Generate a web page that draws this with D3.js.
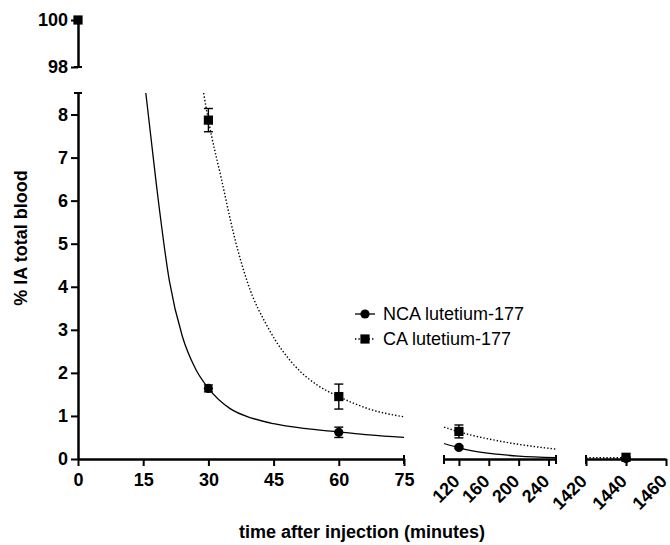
<!DOCTYPE html>
<html>
<head>
<meta charset="utf-8">
<script src="https://cdn.jsdelivr.net/npm/d3@7"></script>
<style>
  body { margin: 0; background: #fff; }
  svg { display: block; }
  text { font-family: Arial, "Liberation Sans", sans-serif; }
</style>
</head>
<body>
<div id="chart"></div>
<script>
// measured points (mean +- sem)
const ncaTimes = [30, 60, 120, 1440]
const ncaMean = [1.64, 0.62, 0.27, 0.01]
const ncaSem = [0.08, 0.12, 0.03, 0]

const caTimes = [0, 30, 60, 120, 1440]
const caMean = [100, 7.87, 1.45, 0.64, 0.04]
const caSem = [0, 0.27, 0.29, 0.15, 0.01]

// fitted curves, one list per axis segment
const ncaFit1T = [15.6, 18, 21, 24, 27, 30, 35, 40, 45, 52, 60, 67, 75]
const ncaFit1Y = [8.5, 6.4, 4.15, 2.85, 2.1, 1.64, 1.17, 0.95, 0.82, 0.71, 0.63, 0.56, 0.5]
const caFit1T = [28.9, 30, 33, 36, 39, 44, 50, 55, 60, 67, 75]
const caFit1Y = [8.5, 7.87, 6.5, 5.15, 4.1, 3.0, 2.15, 1.72, 1.45, 1.16, 0.98]
const ncaFit2T = [100, 120, 140, 170, 200, 250]
const ncaFit2Y = [0.36, 0.26, 0.185, 0.113, 0.069, 0.03]
const caFit2T = [100, 120, 140, 170, 200, 250]
const caFit2Y = [0.74, 0.63, 0.54, 0.43, 0.34, 0.23]
const caFit3T = [1420, 1440]
const caFit3Y = [0.03, 0.03]

// ticks
const xTicks1 = [0, 15, 30, 45, 60, 75]
const xTicks2 = [120, 160, 200, 240]
const xTicks3 = [1420, 1440, 1460]
const yTicksLow = [0, 1, 2, 3, 4, 5, 6, 7, 8]
const yTicksTop = [98, 100]

const seriesNames = ["NCA lutetium-177", "CA lutetium-177"]

const W = 670, H = 545
const x0 = 78, y0 = 459

const xs = [
    d3.scaleLinear().domain([0, 75]).range([78, 404]),
    d3.scaleLinear().domain([100, 250]).range([444, 556]),
    d3.scaleLinear().domain([1420, 1460]).range([586, 666]),
]
const yLow = d3.scaleLinear().domain([0, 8.5]).range([459, 93])
const yTop = d3.scaleLinear().domain([98, 100]).range([67, 20])

function xPos(t) {
    if (t <= 75) return xs[0](t)
    if (t <= 250) return xs[1](t)
    return xs[2](t)
}
function yPos(v) {
    return v > 8.5 ? yTop(v) : yLow(v)
}

const svg = d3.select("#chart").append("svg")
    .attr("width", W)
    .attr("height", H)

const font = "Arial, 'Liberation Sans', sans-serif"
const fmt = d3.format("d")

// ---- axes ----
function styleAxis(g) {
    g.select(".domain").attr("stroke", "#000").attr("stroke-width", 2.5)
    g.selectAll(".tick line").attr("stroke", "#000").attr("stroke-width", 2)
    g.selectAll(".tick text")
        .attr("fill", "#000")
        .style("font-family", font)
        .style("font-size", "18px")
        .style("font-weight", "bold")
}

function xAxis(i, ticks) {
    let g = svg.append("g").attr("transform", `translate(0,${y0})`)
        .call(d3.axisBottom(xs[i]).tickValues(ticks).tickFormat(fmt)
            .tickSize(7).tickPadding(7).tickSizeOuter(0))
    styleAxis(g)
    return g
}
let gx1 = xAxis(0, xTicks1)
let gx2 = xAxis(1, xTicks2)
let gx3 = xAxis(2, xTicks3)

// rotated labels on the 2nd and 3rd segments
;[gx2, gx3].forEach(g => {
    g.selectAll(".tick text")
        .attr("text-anchor", "end")
        .attr("dy", "0.35em")
        .attr("y", 0)
        .attr("transform", "translate(-3,19) rotate(-45)")
})

function yAxis(scale, ticks) {
    let g = svg.append("g").attr("transform", `translate(${x0},0)`)
        .call(d3.axisLeft(scale).tickValues(ticks).tickFormat(fmt)
            .tickSize(7).tickPadding(3).tickSizeOuter(0))
    styleAxis(g)
}
yAxis(yLow, yTicksLow)
yAxis(yTop, yTicksTop)

// break caps
const caps = svg.append("g").attr("stroke", "#000").attr("stroke-width", 2)
;[yLow(8.5), yTop(98)].forEach(y => {
    caps.append("line").attr("x1", x0 - 4).attr("x2", x0 + 4).attr("y1", y).attr("y2", y)
})
;[xs[0](75), xs[1](100), xs[1](250), xs[2](1420)].forEach(x => {
    caps.append("line").attr("x1", x).attr("x2", x).attr("y1", y0 - 4).attr("y2", y0 + 5)
})

// ---- fitted curves ----
const line = d3.line().x(d => xPos(d[0])).y(d => yPos(d[1])).curve(d3.curveMonotoneX)

function drawFit(ts, ys, dotted) {
    svg.append("path")
        .datum(ts.map((t, i) => [t, ys[i]]))
        .attr("fill", "none")
        .attr("stroke", "#000")
        .attr("stroke-width", dotted ? 1.4 : 1.3)
        .attr("stroke-dasharray", dotted ? "1.4,2" : null)
        .attr("d", line)
}
drawFit(ncaFit1T, ncaFit1Y, false)
drawFit(ncaFit2T, ncaFit2Y, false)
drawFit(caFit1T, caFit1Y, true)
drawFit(caFit2T, caFit2Y, true)
drawFit(caFit3T, caFit3Y, true)

// ---- error bars + markers ----
function drawErr(times, mean, sem) {
    let g = svg.append("g").attr("stroke", "#000").attr("stroke-width", 1.4)
    times.forEach((t, i) => {
        if (sem[i] <= 0) return
        let x = xPos(t)
        let yHi = yPos(mean[i] + sem[i]), yLo = yPos(mean[i] - sem[i])
        g.append("line").attr("x1", x).attr("x2", x).attr("y1", yHi).attr("y2", yLo)
        g.append("line").attr("x1", x - 4.5).attr("x2", x + 4.5).attr("y1", yHi).attr("y2", yHi)
        g.append("line").attr("x1", x - 4.5).attr("x2", x + 4.5).attr("y1", yLo).attr("y2", yLo)
    })
}
drawErr(ncaTimes, ncaMean, ncaSem)
drawErr(caTimes, caMean, caSem)

svg.append("g").selectAll("circle")
    .data(ncaTimes.map((t, i) => [t, ncaMean[i]]))
    .enter().append("circle")
    .attr("cx", d => xPos(d[0]))
    .attr("cy", d => yPos(d[1]))
    .attr("r", 4.6)
    .attr("fill", "#000")

svg.append("g").selectAll("rect")
    .data(caTimes.map((t, i) => [t, caMean[i]]))
    .enter().append("rect")
    .attr("x", d => xPos(d[0]) - 4.6)
    .attr("y", d => yPos(d[1]) - 4.6)
    .attr("width", 9.2)
    .attr("height", 9.2)
    .attr("fill", "#000")

// ---- legend ----
const lg = svg.append("g").attr("transform", "translate(365,314)")
seriesNames.forEach((name, i) => {
    let row = lg.append("g").attr("transform", `translate(0,${i * 25})`)
    row.append("line").attr("x1", -10).attr("x2", 10).attr("y1", 0).attr("y2", 0)
        .attr("stroke", "#000").attr("stroke-width", 1.3)
        .attr("stroke-dasharray", i == 1 ? "1.4,2" : null)
    if (i == 0) {
        row.append("circle").attr("r", 4.6).attr("fill", "#000")
    } else {
        row.append("rect").attr("x", -4.6).attr("y", -4.6).attr("width", 9.2).attr("height", 9.2).attr("fill", "#000")
    }
    row.append("text")
        .attr("x", 18)
        .attr("dy", "0.35em")
        .style("font-family", font)
        .style("font-size", "18px")
        .text(name)
})

// ---- titles ----
svg.append("text")
    .attr("x", 362)
    .attr("y", 538)
    .attr("text-anchor", "middle")
    .style("font-family", font)
    .style("font-size", "18px")
    .style("font-weight", "bold")
    .text("time after injection (minutes)")

svg.append("text")
    .attr("transform", "translate(27,238) rotate(-90)")
    .attr("text-anchor", "middle")
    .style("font-family", font)
    .style("font-size", "18px")
    .style("font-weight", "bold")
    .text("% IA total blood")
</script>
</body>
</html>
